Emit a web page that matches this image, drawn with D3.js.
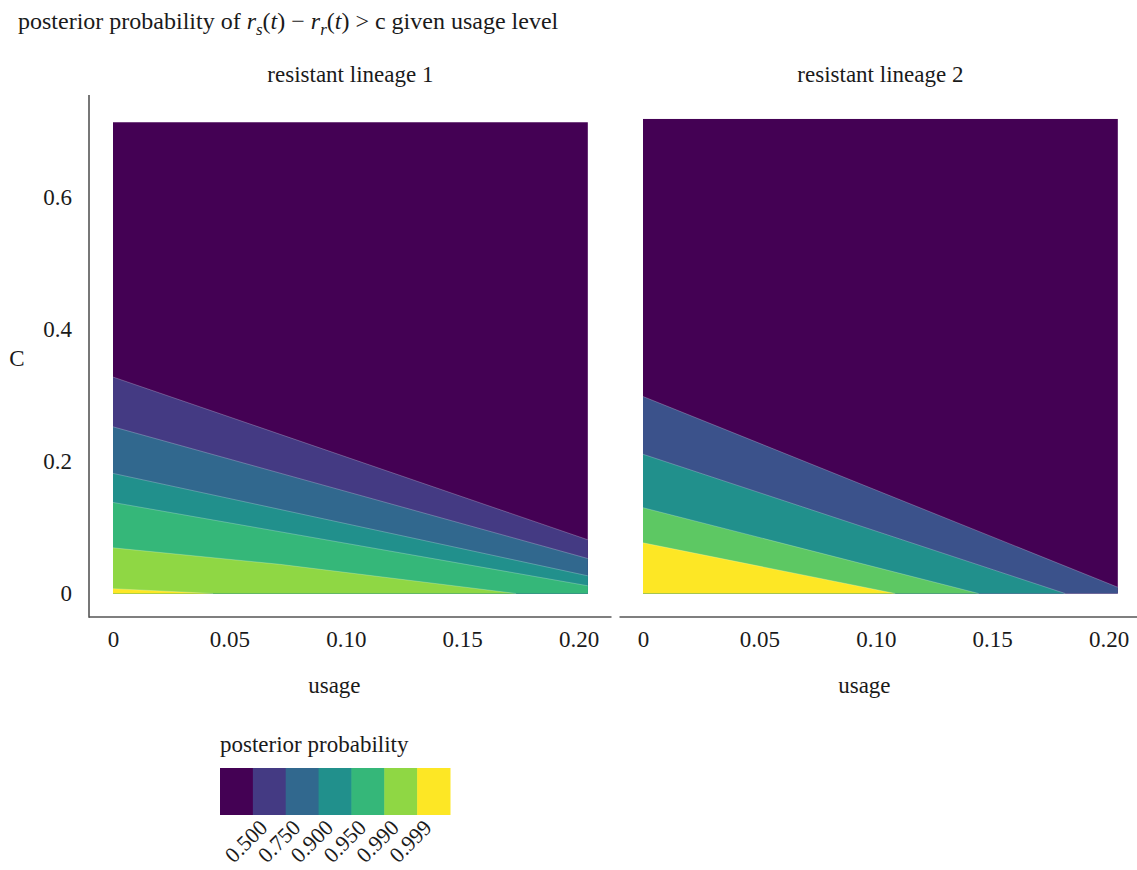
<!DOCTYPE html>
<html>
<head>
<meta charset="utf-8">
<script src="https://cdn.jsdelivr.net/npm/d3@7"></script>
<style>
  html, body { margin: 0; padding: 0; background: #fff; }
  svg { display: block; font-family: "Liberation Serif", "DejaVu Serif", serif; }
</style>
</head>
<body>
<svg id="chart" width="1137" height="870"></svg>
<script>
// ---- data ---------------------------------------------------------------
const usageTicks = [0, 0.05, 0.10, 0.15, 0.20];
const usageTickLabels = ["0", "0.05", "0.10", "0.15", "0.20"];
const cTicks = [0, 0.2, 0.4, 0.6];
const cTickLabels = ["0", "0.2", "0.4", "0.6"];

const probLevels = ["0.500", "0.750", "0.900", "0.950", "0.990", "0.999"];
const viridis7 = ["#440154", "#443A83", "#31688E", "#21908C", "#35B779", "#8FD744", "#FDE725"];
const viridis5 = ["#440154", "#3B528B", "#21908C", "#5DC863", "#FDE725"];

const panelTitles = ["resistant lineage 1", "resistant lineage 2"];
const usageMax = [0.204, 0.204];
const cMax = [0.714, 0.719];

// contour boundaries [usage, c], from the highest band edge down to the lowest
const lineage1Boundaries = [
  [[0, 0.328], [0.204, 0.0814]],
  [[0, 0.2526], [0.204, 0.053]],
  [[0, 0.182], [0.204, 0.0268]],
  [[0, 0.138], [0.204, 0.0117]],
  [[0, 0.0692], [0.0717, 0.0442], [0.1732, 0]],
  [[0, 0.0073], [0.043, 0]]
];
const lineage2Boundaries = [
  [[0, 0.2985], [0.204, 0.0095]],
  [[0, 0.211], [0.1814, 0]],
  [[0, 0.130], [0.1442, 0]],
  [[0, 0.0768], [0.1084, 0]]
];

const panels = [
  { title: panelTitles[0], bounds: lineage1Boundaries, colors: viridis7, uMax: usageMax[0], cTop: cMax[0], x0: 113 },
  { title: panelTitles[1], bounds: lineage2Boundaries, colors: viridis5, uMax: usageMax[1], cTop: cMax[1], x0: 643 }
];

// ---- layout -------------------------------------------------------------
const svg = d3.select("#chart");
const textColor = "#1a1a1a";
const axisColor = "#555";
const fontSize = 23;

const y = d3.scaleLinear().domain([0, 0.6]).range([593.5, 197.5]);

// title with math
const title = svg.append("text")
  .attr("x", 18).attr("y", 29)
  .attr("font-size", 24).attr("fill", textColor);
title.append("tspan").text("posterior probability of ");
title.append("tspan").attr("font-style", "italic").text("r");
title.append("tspan").attr("font-style", "italic").attr("font-size", 17).attr("dy", 6).text("s");
title.append("tspan").attr("dy", -6).text("(");
title.append("tspan").attr("font-style", "italic").text("t");
title.append("tspan").text(") \u2212 ");
title.append("tspan").attr("font-style", "italic").text("r");
title.append("tspan").attr("font-style", "italic").attr("font-size", 17).attr("dy", 6).text("r");
title.append("tspan").attr("dy", -6).text("(");
title.append("tspan").attr("font-style", "italic").text("t");
title.append("tspan").text(") > c given usage level");

// panels
panels.forEach((p, i) => {
  const x = d3.scaleLinear().domain([0, 0.2]).range([p.x0, p.x0 + 465.5]);
  const g = svg.append("g");

  // top band covers the whole grid
  g.append("rect")
    .attr("x", x(0)).attr("y", y(p.cTop))
    .attr("width", x(p.uMax) - x(0)).attr("height", y(0) - y(p.cTop))
    .attr("fill", p.colors[0]);

  const area = d3.area().x(d => x(d[0])).y0(y(0)).y1(d => y(d[1]));
  const line = d3.line().x(d => x(d[0])).y(d => y(d[1]));

  p.bounds.forEach((b, k) => {
    g.append("path").attr("d", area(b)).attr("fill", p.colors[k + 1]);
  });
  p.bounds.forEach(b => {
    g.append("path").attr("d", line(b))
      .attr("fill", "none").attr("stroke", "#fff")
      .attr("stroke-opacity", 0.35).attr("stroke-width", 0.7);
  });

  // facet strip title
  svg.append("text")
    .attr("x", (x(0) + x(p.uMax)) / 2).attr("y", 82)
    .attr("text-anchor", "middle").attr("font-size", fontSize).attr("fill", textColor)
    .text(p.title);

  // x axis
  const ax = svg.append("g").attr("transform", "translate(0,617)")
    .call(d3.axisBottom(x).tickValues(usageTicks)
      .tickFormat((d, j) => usageTickLabels[j]).tickSize(0).tickPadding(35));
  ax.select(".domain").remove();
  ax.selectAll("text").attr("font-size", fontSize).attr("fill", textColor)
    .attr("font-family", "Liberation Serif, serif").attr("dy", "-0.2em");

  svg.append("line")
    .attr("x1", i === 0 ? 89 : 619.5).attr("x2", i === 0 ? 611.5 : 1137)
    .attr("y1", 617).attr("y2", 617)
    .attr("stroke", axisColor).attr("stroke-width", 1.6);

  svg.append("text")
    .attr("x", (x(0) + x(p.uMax)) / 2 - 16).attr("y", 693)
    .attr("text-anchor", "middle").attr("font-size", fontSize).attr("fill", textColor)
    .text("usage");
});

// y axis (left panel only)
const ay = svg.append("g").attr("transform", "translate(89,0)")
  .call(d3.axisLeft(y).tickValues(cTicks)
    .tickFormat((d, j) => cTickLabels[j]).tickSize(0).tickPadding(17));
ay.select(".domain").remove();
ay.selectAll("text").attr("font-size", fontSize).attr("fill", textColor)
  .attr("font-family", "Liberation Serif, serif");
svg.append("line")
  .attr("x1", 89).attr("x2", 89).attr("y1", 95).attr("y2", 617.8)
  .attr("stroke", axisColor).attr("stroke-width", 1.6);

svg.append("text")
  .attr("x", 17).attr("y", 366)
  .attr("text-anchor", "middle").attr("font-size", fontSize).attr("fill", textColor)
  .text("C");

// legend
const legX = 220, legY = 768, legW = 230, legH = 47;
svg.append("text")
  .attr("x", legX).attr("y", 752)
  .attr("font-size", fontSize).attr("fill", textColor)
  .text("posterior probability");
const sw = d3.scaleBand().domain(d3.range(viridis7.length)).range([legX, legX + legW]);
svg.append("g").selectAll("rect").data(viridis7).join("rect")
  .attr("x", (d, k) => sw(k)).attr("y", legY)
  .attr("width", sw.bandwidth() + 0.5).attr("height", legH)
  .attr("fill", d => d);
svg.append("g").selectAll("text").data(probLevels).join("text")
  .attr("transform", (d, k) => `translate(${sw(k + 1) + 16},829) rotate(-45)`)
  .attr("text-anchor", "end").attr("font-size", 22).attr("fill", textColor)
  .text(d => d);
</script>
</body>
</html>
